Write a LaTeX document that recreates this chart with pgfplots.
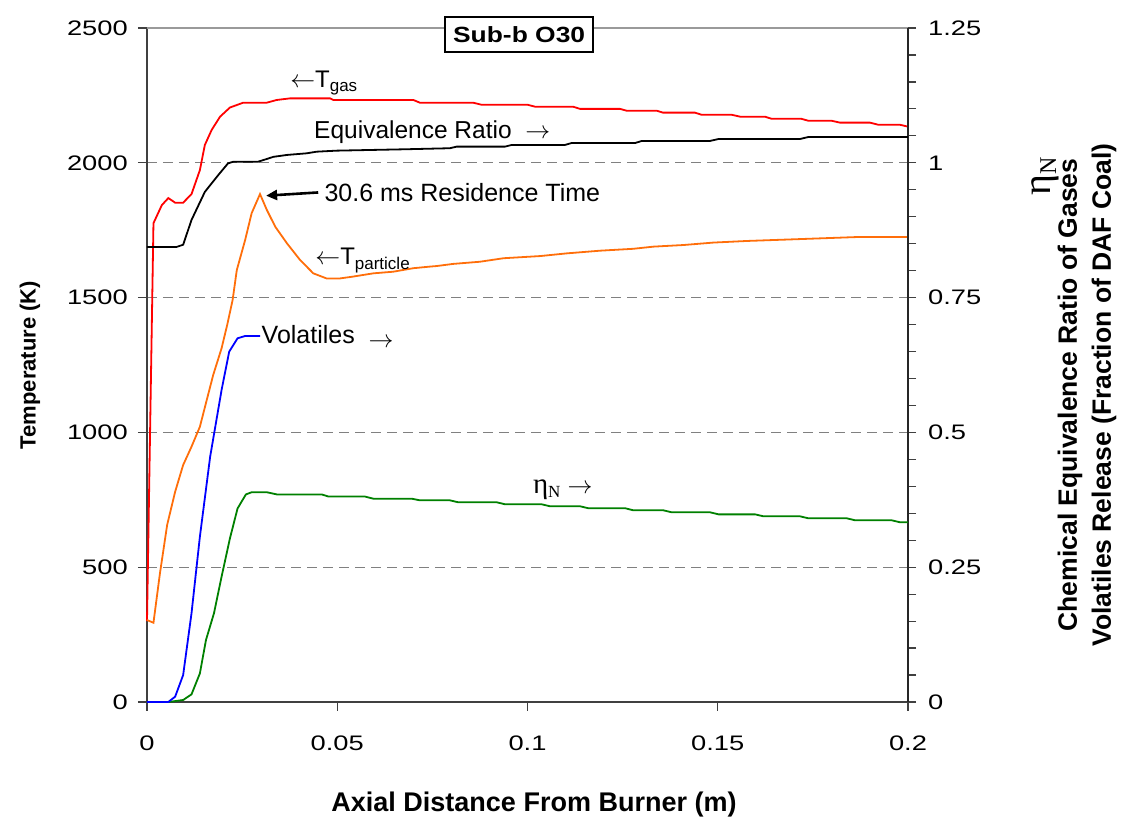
\documentclass[border=0pt]{standalone}
\usepackage{pgfplots}
\pgfplotsset{compat=1.18}
\usepackage{fontspec}
\setmainfont{Liberation Sans}
\newfontfamily\tickfont[FakeStretch=1.3]{Liberation Sans}
\newfontfamily\titlefont[FakeStretch=1.2]{Liberation Sans}
\newfontfamily\seriffont{Liberation Serif}
\usetikzlibrary{arrows.meta}
\definecolor{cRed}{RGB}{255,0,0}
\definecolor{cOrange}{RGB}{255,110,10}
\definecolor{cBlue}{RGB}{0,0,255}
\definecolor{cGreen}{RGB}{0,128,0}
\definecolor{gridgray}{RGB}{128,128,128}

\pgfplotstableread{
x T
0 300
0.0017 1776
0.0039 1843
0.0056 1869
0.0074 1852
0.0095 1852
0.0117 1884
0.0139 1973
0.0152 2066
0.0170 2122
0.0192 2171
0.0218 2205
0.0253 2223
0.0315 2223
0.0341 2233
0.0376 2239
0.0481 2239
0.0490 2233
0.0700 2233
0.0717 2223
0.0857 2223
0.0880 2215
0.1001 2215
0.1020 2208
0.1120 2208
0.1138 2200
0.1243 2200
0.1261 2193
0.1340 2193
0.1356 2186
0.1440 2186
0.1458 2178
0.1537 2178
0.1559 2171
0.1624 2171
0.1642 2163
0.1720 2163
0.1738 2156
0.1799 2156
0.1821 2149
0.1900 2149
0.1922 2141
0.1979 2141
0.2000 2134
}\tgas

\pgfplotstableread{
x T
0 304
0.0017 294
0.0034 477
0.0053 657
0.0074 780
0.0095 879
0.0117 947
0.0139 1021
0.0157 1120
0.0174 1213
0.0196 1312
0.0211 1400
0.0225 1491
0.0236 1602
0.0258 1714
0.0275 1813
0.0297 1884
0.0315 1825
0.0337 1763
0.0368 1701
0.0402 1640
0.0437 1590
0.0472 1571
0.0507 1571
0.0542 1578
0.0595 1590
0.0647 1596
0.0700 1609
0.0744 1615
0.0761 1617
0.0805 1625
0.0875 1633
0.0937 1646
0.1033 1654
0.1103 1664
0.1191 1674
0.1278 1681
0.1331 1689
0.1410 1695
0.1488 1704
0.1576 1710
0.1716 1717
0.1874 1725
0.2000 1725
}\tpart

\pgfplotstableread{
x R
0 0.844
0.0078 0.844
0.0095 0.848
0.0117 0.894
0.0152 0.946
0.0187 0.977
0.0213 0.999
0.0227 1.002
0.0292 1.002
0.0310 1.006
0.0332 1.011
0.0367 1.0145
0.0420 1.0176
0.0446 1.0206
0.0498 1.0225
0.0674 1.025
0.0796 1.027
0.0814 1.030
0.0941 1.030
0.0958 1.033
0.1098 1.033
0.1116 1.0367
0.1283 1.0367
0.1300 1.0404
0.1479 1.0404
0.1502 1.0441
0.1716 1.0441
0.1738 1.0478
0.2000 1.0478
}\eqr

\pgfplotstableread{
x V
0 0
0.0056 0
0.0074 0.0099
0.0095 0.050
0.0117 0.1645
0.0139 0.3066
0.0166 0.455
0.0196 0.5786
0.0216 0.6497
0.0238 0.6745
0.0258 0.6788
0.0297 0.6788
}\vol

\pgfplotstableread{
x N
0 0
0.0056 0
0.0095 0.0037
0.0117 0.0142
0.0139 0.053
0.0155 0.115
0.0176 0.1645
0.0196 0.2324
0.0218 0.3036
0.0238 0.359
0.0260 0.385
0.0275 0.389
0.0315 0.389
0.0341 0.385
0.0459 0.385
0.0477 0.381
0.0573 0.381
0.0595 0.377
0.0696 0.377
0.0717 0.374
0.0796 0.374
0.0818 0.3704
0.0919 0.3704
0.0941 0.3667
0.1037 0.3667
0.1059 0.363
0.1138 0.363
0.1160 0.3593
0.1257 0.3593
0.1278 0.3555
0.1357 0.3555
0.1379 0.3518
0.1480 0.3518
0.1502 0.348
0.1598 0.348
0.1620 0.3444
0.1716 0.3444
0.1738 0.3407
0.1839 0.3407
0.1861 0.337
0.1957 0.337
0.1979 0.3333
0.2000 0.3333
}\etan

\begin{document}
\begin{tikzpicture}
\useasboundingbox (-147pt,-116pt) rectangle (974pt,702pt);
\begin{axis}[
  scale only axis, width=761pt, height=674pt,
  xmin=0, xmax=0.2, ymin=0, ymax=2500,
  axis x line*=bottom, axis y line*=left,
  axis line style={line width=1.3pt, black!75},
  xtick={0,0.05,0.1,0.15,0.2},
  xticklabels={0,0.05,0.1,0.15,0.2},
  ytick={0,500,1000,1500,2000,2500},
  yticklabels={0,500,1000,1500,2000,2500},
  tick align=outside,
  major tick length=9pt,
  tick style={line width=1.2pt, black!75},
  ymajorgrids,
  grid style={gridgray, line width=1pt, dash pattern=on 10pt off 6pt},
  ticklabel style={font=\tickfont\fontsize{21}{21}\selectfont, inner sep=0pt},
  xticklabel shift=25pt,
  yticklabel shift=10pt,
  clip=false,
]
\addplot[cRed, line width=1.8pt] table[x=x,y=T]{\tgas};
\addplot[cOrange, line width=1.8pt] table[x=x,y=T]{\tpart};
\draw[gridgray!80, line width=1.3pt] (rel axis cs:0,1) -- (rel axis cs:1,1);
\node[draw=black, line width=1.5pt, fill=white, minimum width=148pt, minimum height=35pt, inner sep=0pt,
  font=\titlefont\bfseries\fontsize{22}{22}\selectfont] at (axis cs:0.0978,2476) {Sub-b O30};
\node[anchor=base west, inner sep=0pt, font=\fontsize{24}{24}\selectfont] at (axis cs:0.0376,2281)
  {$\leftarrow$T\raisebox{-0.2em}{\fontsize{17}{17}\selectfont gas}};
\node[anchor=base west, inner sep=0pt, font=\fontsize{24.5}{24}\selectfont] at (axis cs:0.0439,2091)
  {Equivalence Ratio\ \ $\rightarrow$};
\node[anchor=base west, inner sep=0pt, font=\fontsize{25}{25}\selectfont] at (axis cs:0.0466,1856)
  {30.6 ms Residence Time};
\draw[line width=2.6pt, -{Triangle[length=11pt,width=10pt]}] (axis cs:0.0450,1890) -- (axis cs:0.0313,1878);
\node[anchor=base west, inner sep=0pt, font=\fontsize{24}{24}\selectfont] at (axis cs:0.0442,1621)
  {$\leftarrow$T\raisebox{-0.2em}{\fontsize{17}{17}\selectfont particle}};
\node[anchor=base west, inner sep=0pt, font=\fontsize{25}{25}\selectfont] at (axis cs:0.0301,1330)
  {Volatiles\ \ \raisebox{-0.15em}{$\rightarrow$}};
\node[anchor=base west, inner sep=0pt, font=\seriffont\fontsize{29}{29}\selectfont] at (axis cs:0.1014,775)
  {η\raisebox{-0.15em}{\fontsize{17}{17}\selectfont N}\ \fontsize{24}{24}\selectfont$\rightarrow$};
\end{axis}
\begin{axis}[
  scale only axis, width=761pt, height=674pt,
  xmin=0, xmax=0.2, ymin=0, ymax=1.25,
  axis x line=none, axis y line*=right,
  axis line style={line width=1.3pt, black!85},
  ytick={0,0.25,0.5,0.75,1,1.25},
  yticklabels={0,0.25,0.5,0.75,1,1.25},
  minor y tick num=4,
  tick align=outside,
  major tick length=8pt, minor tick length=8pt,
  tick style={line width=1.2pt, black!75},
  ticklabel style={font=\tickfont\fontsize{21}{21}\selectfont, inner sep=0pt},
  yticklabel shift=12pt,
  clip=false,
]
\addplot[black, line width=1.8pt] table[x=x,y=R]{\eqr};
\addplot[cGreen, line width=1.8pt] table[x=x,y=N]{\etan};
\addplot[cBlue, line width=1.8pt] table[x=x,y=V]{\vol};
\end{axis}
\node[rotate=90, inner sep=0pt, font=\bfseries\fontsize{22}{22}\selectfont] at (-117pt,337pt) {Temperature (K)};
\node[anchor=base, inner sep=0pt, font=\bfseries\fontsize{27}{27}\selectfont] at (387pt,-109.7pt) {Axial Distance From Burner (m)};
\node[rotate=90, font=\seriffont\fontsize{40}{40}\selectfont, inner sep=0pt] at (898pt,526pt) {η\raisebox{-0.15em}{\fontsize{24}{24}\selectfont N}};
\node[rotate=90, align=center, inner sep=0pt, font=\bfseries\fontsize{26.5}{34}\selectfont] at (940pt,307pt)
  {Chemical Equivalence Ratio of Gases\\Volatiles Release (Fraction of DAF Coal)};
\end{tikzpicture}
\end{document}
